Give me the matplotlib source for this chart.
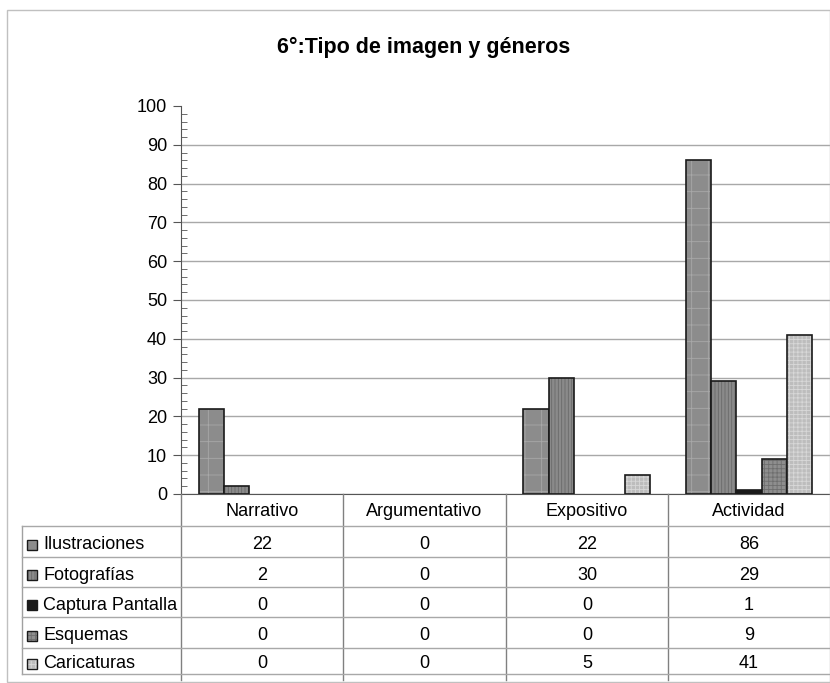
import matplotlib
matplotlib.use("Agg")
import matplotlib.pyplot as plt
from matplotlib.patches import Rectangle
from matplotlib.lines import Line2D
import numpy as np

plt.rcParams['font.family'] = ['Liberation Sans', 'DejaVu Sans']
plt.rcParams['hatch.linewidth'] = 0.6

categories = ['Narrativo', 'Argumentativo', 'Expositivo', 'Actividad']
series = ['Ilustraciones', 'Fotografías', 'Captura Pantalla', 'Esquemas', 'Caricaturas']
ilustraciones = [22, 0, 22, 86]
fotografias = [2, 0, 30, 29]
captura = [0, 0, 0, 1]
esquemas = [0, 0, 0, 9]
caricaturas = [0, 0, 5, 41]
values = [ilustraciones, fotografias, captura, esquemas, caricaturas]

colors = ['#8c8c8c', '#8a8a8a', '#1a1a1a', '#8e8e8e', '#bdbdbd']
hatch_colors = ['#a8a8a8', '#6a6a6a', '#1a1a1a', '#6e6e6e', '#d8d8d8']
hatches = ['+', '|||||', '', '++++', '++++']

W, H = 830, 683
fig = plt.figure(figsize=(W / 100, H / 100), dpi=100)


def fx(x):
    return x / W


def fy(y):
    return 1 - y / H


# outer frame
fig.patches.append(Rectangle((fx(7), fy(682)), fx(830) - fx(7), fy(10) - fy(682),
                             transform=fig.transFigure, fill=False,
                             edgecolor='#c0c0c0', linewidth=1))

fig.text(fx(424), fy(47), '6°:Tipo de imagen y géneros', ha='center', va='center',
         fontsize=15.5, fontweight='bold')

ax = fig.add_axes([fx(181), fy(494), fx(830) - fx(181), fy(106) - fy(494)])
x = np.arange(len(categories))
bw = 0.156
for i, (name, vals) in enumerate(zip(series, values)):
    bars = ax.bar(x + (i - 2) * bw, vals, bw, color=colors[i], edgecolor='#1a1a1a',
                  linewidth=1.2, zorder=3, label=name)
    for b, v in zip(bars, vals):
        b._hatch_color = matplotlib.colors.to_rgba(hatch_colors[i])
        b.set_hatch(hatches[i])
        if v == 0:
            b.set_visible(False)

ax.set_xlim(-0.5, 3.5)
ax.set_ylim(0, 100)
ax.set_yticks(np.arange(0, 101, 10))
ax.set_yticks(np.arange(0, 101, 2), minor=True)
ax.yaxis.grid(True, color='#a8a8a8', linewidth=1, zorder=0)
ax.set_xticks([])
for s in ['top', 'right']:
    ax.spines[s].set_visible(False)
ax.spines['left'].set_color('#555555')
ax.spines['bottom'].set_color('#555555')
ax.tick_params(axis='y', which='major', direction='out', length=6, color='#555555',
               labelsize=13, pad=4)
ax.tick_params(axis='y', which='minor', direction='in', length=4, color='#555555')
fig.canvas.draw()
ax.yaxis.get_gridlines()[-1].set_visible(False)

# table
col_edges = [22, 181, 343, 506, 668, 830]
row_edges = [526, 557, 587, 617, 648, 674]
for xe in col_edges[1:5]:
    fig.add_artist(Line2D([fx(xe), fx(xe)], [fy(494), fy(680)], color='#808080', linewidth=1))
fig.add_artist(Line2D([fx(22), fx(22)], [fy(526), fy(674)], color='#a0a0a0', linewidth=1))
for ye in row_edges:
    fig.add_artist(Line2D([fx(22), fx(830)], [fy(ye), fy(ye)], color='#a8a8a8', linewidth=1))

for j, cat in enumerate(categories):
    cx = (col_edges[j + 1] + col_edges[j + 2]) / 2
    fig.text(fx(cx), fy(511), cat, ha='center', va='center', fontsize=13)

for i, (name, vals) in enumerate(zip(series, values)):
    cy = (row_edges[i] + row_edges[i + 1]) / 2 + 3
    sw = Rectangle((fx(27), fy(cy + 5)), fx(10), fy(0) - fy(10), transform=fig.transFigure,
                   facecolor=colors[i], edgecolor='#1a1a1a', linewidth=1, hatch=hatches[i])
    sw._hatch_color = matplotlib.colors.to_rgba(hatch_colors[i])
    fig.patches.append(sw)
    fig.text(fx(43), fy(cy), name, ha='left', va='center', fontsize=13)
    for j, v in enumerate(vals):
        cx = (col_edges[j + 1] + col_edges[j + 2]) / 2
        fig.text(fx(cx), fy(cy), str(v), ha='center', va='center', fontsize=13)

fig.savefig('out.png', dpi=100)
